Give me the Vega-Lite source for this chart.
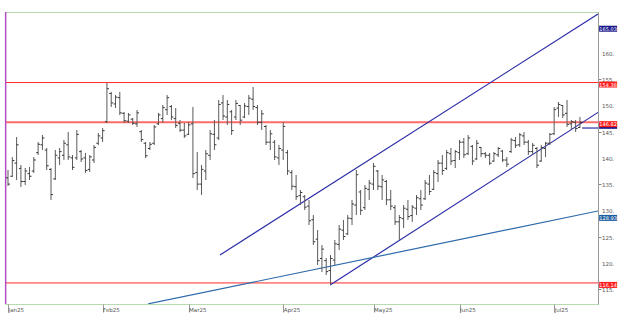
{
  "$schema": "https://vega.github.io/schema/vega-lite/v6.json",
  "width": 593,
  "height": 292,
  "autosize": {"type": "none"},
  "padding": {"left": 5, "top": 12, "right": 25, "bottom": 13},
  "background": "white",
  "config": {"view": {"stroke": "#b8dcb0", "strokeWidth": 1}, "font": "DejaVu Sans"},
  "datasets": {
    "bars": [
      {"i":0,"o":136.2,"h":137.69,"l":134.64,"c":135.0},
      {"i":1,"o":136.5,"h":140.17,"l":136.36,"c":139.5},
      {"i":2,"o":139.0,"h":143.99,"l":135.78,"c":142.5},
      {"i":3,"o":138.0,"h":138.65,"l":134.45,"c":135.5},
      {"i":4,"o":135.5,"h":138.07,"l":134.83,"c":137.5},
      {"i":5,"o":137.0,"h":138.26,"l":135.78,"c":136.5},
      {"i":6,"o":137.5,"h":140.17,"l":137.12,"c":139.6},
      {"i":7,"o":141.0,"h":143.03,"l":140.55,"c":142.6},
      {"i":8,"o":142.5,"h":144.37,"l":141.51,"c":143.8},
      {"i":9,"o":141.5,"h":141.89,"l":137.69,"c":138.5},
      {"i":10,"o":137.8,"h":138.07,"l":131.97,"c":133.0},
      {"i":11,"o":136.0,"h":141.51,"l":135.78,"c":140.5},
      {"i":12,"o":140.0,"h":141.89,"l":138.65,"c":141.2},
      {"i":13,"o":140.5,"h":143.42,"l":139.6,"c":142.8},
      {"i":14,"o":142.5,"h":144.94,"l":139.6,"c":140.2},
      {"i":15,"o":140.0,"h":140.55,"l":137.69,"c":138.2},
      {"i":16,"o":140.0,"h":145.32,"l":139.6,"c":144.5},
      {"i":17,"o":141.2,"h":141.51,"l":139.22,"c":139.8},
      {"i":18,"o":140.0,"h":140.94,"l":137.12,"c":137.6},
      {"i":19,"o":137.8,"h":140.55,"l":137.31,"c":140.2},
      {"i":20,"o":139.6,"h":142.46,"l":139.03,"c":142.0},
      {"i":21,"o":142.8,"h":144.75,"l":142.46,"c":144.2},
      {"i":22,"o":143.8,"h":145.71,"l":143.03,"c":145.2},
      {"i":23,"o":146.9,"h":154.29,"l":146.66,"c":153.2},
      {"i":24,"o":152.3,"h":152.58,"l":149.71,"c":150.5},
      {"i":25,"o":150.3,"h":152.0,"l":149.52,"c":151.6},
      {"i":26,"o":151.5,"h":152.58,"l":148.19,"c":148.6},
      {"i":27,"o":148.5,"h":148.76,"l":146.66,"c":147.1},
      {"i":28,"o":147.0,"h":148.57,"l":146.66,"c":148.2},
      {"i":29,"o":147.4,"h":147.61,"l":146.28,"c":146.6},
      {"i":30,"o":146.5,"h":149.14,"l":145.9,"c":148.6},
      {"i":31,"o":145.0,"h":145.32,"l":143.03,"c":143.5},
      {"i":32,"o":142.8,"h":143.03,"l":139.98,"c":140.4},
      {"i":33,"o":141.8,"h":143.03,"l":141.51,"c":142.6},
      {"i":34,"o":142.8,"h":146.28,"l":142.46,"c":145.9},
      {"i":35,"o":146.5,"h":148.57,"l":146.28,"c":148.2},
      {"i":36,"o":147.5,"h":150.1,"l":146.66,"c":149.6},
      {"i":37,"o":149.2,"h":152.0,"l":148.19,"c":151.5},
      {"i":38,"o":149.8,"h":150.1,"l":147.23,"c":147.8},
      {"i":39,"o":147.5,"h":149.52,"l":145.71,"c":146.2},
      {"i":40,"o":146.6,"h":147.23,"l":144.94,"c":145.3},
      {"i":41,"o":145.3,"h":146.66,"l":143.8,"c":144.2},
      {"i":42,"o":144.5,"h":146.85,"l":144.37,"c":146.3},
      {"i":43,"o":146.5,"h":149.71,"l":136.16,"c":137.0},
      {"i":44,"o":137.2,"h":141.13,"l":133.87,"c":135.0},
      {"i":45,"o":135.0,"h":138.65,"l":132.92,"c":137.8},
      {"i":46,"o":137.5,"h":141.51,"l":135.78,"c":140.8},
      {"i":47,"o":140.5,"h":145.32,"l":139.6,"c":144.6},
      {"i":48,"o":144.5,"h":147.23,"l":141.51,"c":142.5},
      {"i":49,"o":143.8,"h":151.05,"l":143.42,"c":150.2},
      {"i":50,"o":150.5,"h":152.0,"l":147.23,"c":148.0},
      {"i":51,"o":147.8,"h":151.05,"l":146.28,"c":150.2},
      {"i":52,"o":148.8,"h":149.14,"l":144.37,"c":145.2},
      {"i":53,"o":147.8,"h":151.05,"l":147.23,"c":150.4},
      {"i":54,"o":150.0,"h":150.1,"l":146.28,"c":147.2},
      {"i":55,"o":147.8,"h":150.48,"l":147.61,"c":149.9},
      {"i":56,"o":149.8,"h":152.0,"l":148.19,"c":151.4},
      {"i":57,"o":151.2,"h":153.53,"l":149.14,"c":149.8},
      {"i":58,"o":149.6,"h":150.1,"l":146.28,"c":146.8},
      {"i":59,"o":146.8,"h":149.14,"l":145.32,"c":148.4},
      {"i":60,"o":146.0,"h":146.28,"l":142.46,"c":143.0},
      {"i":61,"o":143.0,"h":145.32,"l":141.51,"c":144.6},
      {"i":62,"o":143.0,"h":143.42,"l":139.6,"c":140.2},
      {"i":63,"o":140.0,"h":142.46,"l":138.65,"c":141.8},
      {"i":64,"o":141.5,"h":146.85,"l":139.6,"c":146.0},
      {"i":65,"o":141.0,"h":141.51,"l":136.74,"c":137.5},
      {"i":66,"o":137.2,"h":137.69,"l":133.87,"c":134.6},
      {"i":67,"o":134.5,"h":136.74,"l":131.97,"c":132.6},
      {"i":68,"o":132.8,"h":133.87,"l":131.01,"c":133.4},
      {"i":69,"o":132.6,"h":132.92,"l":130.06,"c":130.6},
      {"i":70,"o":130.8,"h":131.97,"l":127.19,"c":128.0},
      {"i":71,"o":128.2,"h":129.1,"l":123.38,"c":124.0},
      {"i":72,"o":124.5,"h":126.24,"l":119.56,"c":120.4},
      {"i":73,"o":120.8,"h":123.38,"l":118.23,"c":122.6},
      {"i":74,"o":120.4,"h":120.9,"l":117.65,"c":118.3},
      {"i":75,"o":118.5,"h":121.47,"l":115.74,"c":120.8},
      {"i":76,"o":120.5,"h":124.33,"l":119.56,"c":123.6},
      {"i":77,"o":123.5,"h":127.19,"l":122.42,"c":126.4},
      {"i":78,"o":126.2,"h":128.15,"l":124.33,"c":125.0},
      {"i":79,"o":125.5,"h":129.1,"l":125.29,"c":128.5},
      {"i":80,"o":128.4,"h":131.97,"l":127.19,"c":131.2},
      {"i":81,"o":131.0,"h":137.69,"l":129.1,"c":136.8},
      {"i":82,"o":133.5,"h":133.87,"l":129.1,"c":130.0},
      {"i":83,"o":130.5,"h":134.83,"l":130.06,"c":134.2},
      {"i":84,"o":134.0,"h":135.78,"l":131.97,"c":135.2},
      {"i":85,"o":135.0,"h":139.03,"l":133.87,"c":138.4},
      {"i":86,"o":137.5,"h":137.69,"l":133.87,"c":134.6},
      {"i":87,"o":134.5,"h":136.74,"l":131.97,"c":135.8},
      {"i":88,"o":135.5,"h":135.78,"l":131.01,"c":132.0},
      {"i":89,"o":132.0,"h":133.87,"l":130.06,"c":130.8},
      {"i":90,"o":130.5,"h":131.01,"l":127.19,"c":127.8},
      {"i":91,"o":127.8,"h":129.1,"l":124.33,"c":128.6},
      {"i":92,"o":128.4,"h":131.01,"l":126.62,"c":130.4},
      {"i":93,"o":130.2,"h":131.97,"l":128.15,"c":128.8},
      {"i":94,"o":129.0,"h":131.01,"l":127.77,"c":130.6},
      {"i":95,"o":130.4,"h":132.92,"l":129.1,"c":132.4},
      {"i":96,"o":132.2,"h":133.87,"l":130.06,"c":131.0},
      {"i":97,"o":132.2,"h":135.78,"l":131.97,"c":135.2},
      {"i":98,"o":135.0,"h":136.74,"l":132.92,"c":133.6},
      {"i":99,"o":134.0,"h":137.69,"l":133.87,"c":137.2},
      {"i":100,"o":137.0,"h":139.6,"l":135.4,"c":139.0},
      {"i":101,"o":139.0,"h":140.55,"l":136.74,"c":137.6},
      {"i":102,"o":138.0,"h":141.51,"l":137.69,"c":141.0},
      {"i":103,"o":140.8,"h":141.89,"l":138.65,"c":139.4},
      {"i":104,"o":139.5,"h":141.51,"l":138.07,"c":141.2},
      {"i":105,"o":141.0,"h":143.42,"l":139.6,"c":143.0},
      {"i":106,"o":143.0,"h":143.8,"l":139.98,"c":140.6},
      {"i":107,"o":140.8,"h":144.37,"l":140.55,"c":143.8},
      {"i":108,"o":142.2,"h":142.46,"l":138.65,"c":139.4},
      {"i":109,"o":139.8,"h":143.42,"l":139.6,"c":142.8},
      {"i":110,"o":142.0,"h":142.08,"l":140.17,"c":140.8},
      {"i":111,"o":140.8,"h":141.13,"l":139.98,"c":140.5},
      {"i":112,"o":140.5,"h":140.94,"l":138.65,"c":139.0},
      {"i":113,"o":139.4,"h":141.13,"l":139.22,"c":140.8},
      {"i":114,"o":140.6,"h":142.08,"l":140.17,"c":141.8},
      {"i":115,"o":141.3,"h":141.51,"l":139.22,"c":139.6},
      {"i":116,"o":139.6,"h":140.17,"l":138.26,"c":138.8},
      {"i":117,"o":141.2,"h":143.8,"l":140.94,"c":143.4},
      {"i":118,"o":143.3,"h":143.99,"l":141.89,"c":142.4},
      {"i":119,"o":142.5,"h":144.75,"l":142.08,"c":144.4},
      {"i":120,"o":144.2,"h":144.94,"l":142.46,"c":143.0},
      {"i":121,"o":143.0,"h":143.42,"l":140.55,"c":141.2},
      {"i":122,"o":141.2,"h":142.84,"l":140.55,"c":142.4},
      {"i":123,"o":141.8,"h":142.08,"l":138.07,"c":138.6},
      {"i":124,"o":139.4,"h":142.46,"l":139.22,"c":142.0},
      {"i":125,"o":141.8,"h":143.03,"l":140.17,"c":142.8},
      {"i":126,"o":142.8,"h":144.75,"l":142.46,"c":144.5},
      {"i":127,"o":144.6,"h":149.71,"l":144.37,"c":149.2},
      {"i":128,"o":149.5,"h":150.67,"l":147.81,"c":150.2},
      {"i":129,"o":150.0,"h":150.1,"l":147.61,"c":148.2},
      {"i":130,"o":148.5,"h":151.05,"l":145.9,"c":146.4},
      {"i":131,"o":146.5,"h":147.23,"l":145.32,"c":146.9},
      {"i":132,"o":146.8,"h":147.23,"l":144.94,"c":145.6},
      {"i":133,"o":145.8,"h":147.81,"l":145.71,"c":146.8}
    ],
    "lines": [
      {"id":"upper","i":49.3,"p":121.47},
      {"id":"upper","i":137.2,"p":167.46},
      {"id":"lower","i":74.9,"p":115.74},
      {"id":"lower","i":137.2,"p":148.68},
      {"id":"lowerh","i":133.5,"p":145.7},
      {"id":"lowerh","i":137.2,"p":145.7},
      {"id":"steel","i":32.6,"p":112.15},
      {"id":"steel","i":137.2,"p":129.87}
    ],
    "tags": [
      {"t":"navytag","p":165.03,"lab":"165.03"},
      {"t":"redtag","p":154.38,"lab":"154.38"},
      {"t":"navytag","p":146.5,"lab":""},
      {"t":"redtag","p":146.82,"lab":"146.82"},
      {"t":"steeltag","p":128.93,"lab":"128.93"},
      {"t":"redtag","p":116.14,"lab":"116.14"}
    ],
    "yticks": [
      {"v":115,"lab":"115."},{"v":120,"lab":"120."},{"v":125,"lab":"125."},{"v":130,"lab":"130."},
      {"v":135,"lab":"135."},{"v":140,"lab":"140."},{"v":145,"lab":"145."},{"v":150,"lab":"150."},
      {"v":155,"lab":"155."},{"v":160,"lab":"160."}
    ],
    "cursor": [{"i": -0.55}]
  },
  "layer": [
    {
      "data": {"values": [{"p": 154.38}, {"p": 116.14}]},
      "mark": {"type": "rule", "color": "#ff2a2a", "strokeWidth": 1},
      "encoding": {
        "y": {"field": "p", "type": "quantitative", "scale": {"domain": [112.12, 167.84], "nice": false, "zero": false},
          "axis": {"orient": "right", "values": [115,120,125,130,135,140,145,150,155,160,165], "labels": false, "tickColor": "#888", "tickSize": 3, "domainColor": "#999", "grid": false, "title": null}}
      }
    },
    {
      "data": {"values": [{"p": 146.82}]},
      "mark": {"type": "rule", "color": "#ff6b6b", "strokeWidth": 2},
      "encoding": {"y": {"field": "p", "type": "quantitative"}}
    },
    {
      "data": {"name": "cursor"},
      "mark": {"type": "rule", "color": "#b050c0", "strokeWidth": 1.5},
      "encoding": {"x": {"field": "i", "type": "quantitative"}}
    },
    {
      "data": {"name": "lines"},
      "mark": {"type": "line", "clip": true, "strokeWidth": 1.2},
      "encoding": {
        "x": {"field": "i", "type": "quantitative"},
        "y": {"field": "p", "type": "quantitative"},
        "detail": {"field": "id"},
        "color": {"field": "id", "type": "nominal", "legend": null,
          "scale": {"domain": ["upper","lower","lowerh","steel","navytag","redtag","steeltag"],
                    "range": ["#2d2da8","#2d2da8","#2d2da8","#2e6aaa","#1a1a8c","#ff1a1a","#1f5f9f"]}}
      }
    },
    {
      "data": {"name": "bars"},
      "mark": {"type": "rule", "color": "#5a5a5a", "strokeWidth": 1},
      "encoding": {
        "x": {"field": "i", "type": "quantitative", "scale": {"domain": [-0.7, 137.2], "nice": false, "zero": false},
          "axis": {"orient": "bottom", "values": [0,22,42,64,85,105,127], "labelExpr": "['Jan25','Feb25','Mar25','Apr25','May25','Jun25','Jul25'][indexof([0,22,42,64,85,105,127], datum.value)]", "tickSize": 8, "labelPadding": -3, "labelAlign": "left", "labelDx": 1, "labelBaseline": "middle", "domain": false, "grid": false, "labelFontSize": 5.5, "labelColor": "#555", "tickColor": "#999", "title": null, "labelOverlap": false, "labelFlush": false}},
        "y": {"field": "l", "type": "quantitative"},
        "y2": {"field": "h"}
      }
    },
    {
      "data": {"name": "bars"},
      "mark": {"type": "tick", "orient": "horizontal", "size": 2, "thickness": 1, "xOffset": -1, "color": "#333", "opacity": 1},
      "encoding": {
        "x": {"field": "i", "type": "quantitative"},
        "y": {"field": "o", "type": "quantitative"}
      }
    },
    {
      "data": {"name": "bars"},
      "mark": {"type": "tick", "orient": "horizontal", "size": 2, "thickness": 1, "xOffset": 1, "color": "#333", "opacity": 1},
      "encoding": {
        "x": {"field": "i", "type": "quantitative"},
        "y": {"field": "c", "type": "quantitative"}
      }
    },
    {
      "data": {"name": "yticks"},
      "mark": {"type": "text", "color": "#555", "fontSize": 5.5, "align": "left", "baseline": "middle", "dx": 4, "dy": 1, "clip": false},
      "encoding": {
        "x": {"datum": 137.2, "type": "quantitative"},
        "y": {"field": "v", "type": "quantitative"},
        "text": {"field": "lab"}
      }
    },
    {
      "data": {"name": "tags"},
      "mark": {"type": "tick", "orient": "horizontal", "size": 18, "thickness": 6, "yOffset": 2, "clip": false, "opacity": 1},
      "encoding": {
        "x": {"datum": 139.55, "type": "quantitative"},
        "y": {"field": "p", "type": "quantitative"},
        "color": {"field": "t", "type": "nominal", "legend": null}
      }
    },
    {
      "data": {"name": "tags"},
      "mark": {"type": "text", "color": "white", "fontSize": 5, "yOffset": 2, "align": "center", "baseline": "middle", "clip": false},
      "encoding": {
        "x": {"datum": 139.55, "type": "quantitative"},
        "y": {"field": "p", "type": "quantitative"},
        "text": {"field": "lab"}
      }
    }
  ]
}
